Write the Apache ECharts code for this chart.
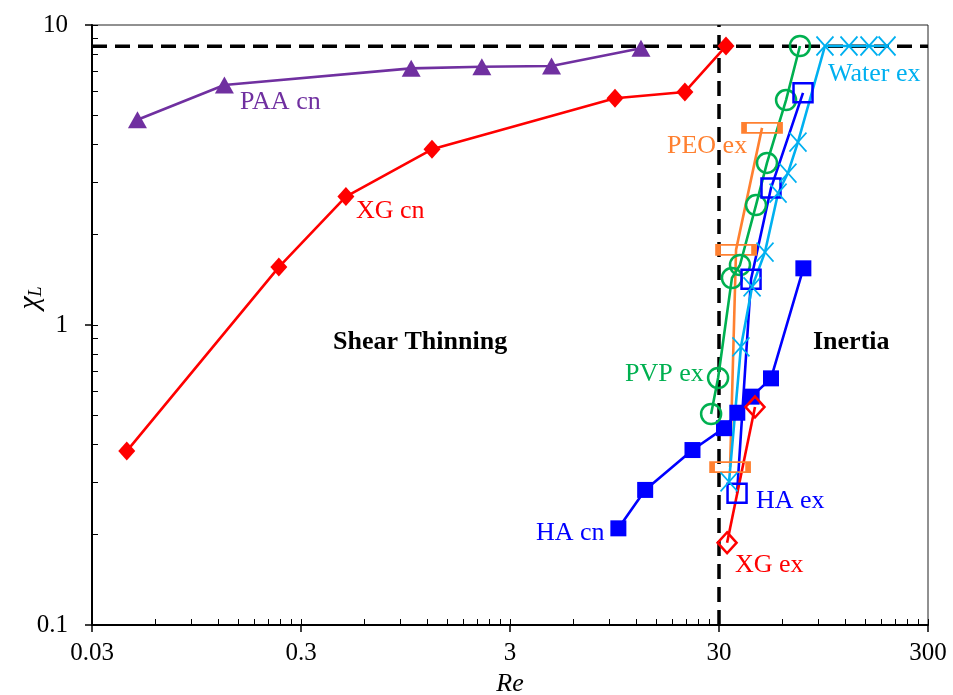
<!DOCTYPE html>
<html>
<head>
<meta charset="utf-8">
<script src="https://cdn.jsdelivr.net/npm/echarts@6/dist/echarts.min.js"></script>
<style>
  html, body { margin: 0; padding: 0; background: #fff; }
  #chart { width: 953px; height: 695px; }
</style>
</head>
<body>
<div id="chart"></div>
<script>
// axis ticks
const xMajorTicks = [0.03, 0.3, 3, 30, 300];
const yMajorTicks = [0.1, 1, 10];
const minorSteps = [2, 3, 4, 5, 6, 7, 8, 9];

// reference levels
const refChi = 8.5;
const refRe = 30;

// PAA cn
const paaCnRe = [0.0495, 0.129, 1.01, 2.2, 4.74, 12.7];
const paaCnChi = [4.83, 6.31, 7.17, 7.26, 7.3, 8.36];

// XG cn
const xgCnRe = [0.044, 0.235, 0.492, 1.27, 9.54, 20.6, 32.4];
const xgCnChi = [0.38, 1.56, 2.68, 3.85, 5.7, 5.98, 8.51];

// HA cn
const haCnRe = [9.9, 13.3, 22.4, 31.7, 36.7, 43, 53.2, 76];
const haCnChi = [0.21, 0.282, 0.383, 0.453, 0.51, 0.577, 0.664, 1.545];

// PEO ex
const peoExRe = [33.9, 36.2, 48.2];
const peoExChi = [0.336, 1.78, 4.54];

// PVP ex
const pvpExRe = [27.5, 29.7, 34.6, 37.8, 45.1, 50.9, 62.8, 73.2];
const pvpExChi = [0.505, 0.666, 1.435, 1.585, 2.51, 3.47, 5.62, 8.51];

// HA ex
const haExRe = [36.6, 42.7, 53.2, 75.7];
const haExChi = [0.275, 1.42, 2.86, 5.94];

// Water ex
const waterExRe = [33.5, 38.2, 43.2, 49.8, 57.5, 64.1, 71.6, 96.4, 125.6, 156.6, 191];
const waterExChi = [0.3, 0.845, 1.34, 1.75, 2.75, 3.21, 4.07, 8.51, 8.51, 8.51, 8.51];

// XG ex
const xgExRe = [32.8, 44.6];
const xgExChi = [0.188, 0.533];

const serif = 'Liberation Serif';

const zip = (xs, ys) => xs.map((x, i) => [x, ys[i]]);

// 次刻度：每个十倍区间内的 2..9 倍
function minorOf(majors) {
  const out = [];
  for (let i = 0; i < majors.length - 1; i++) {
    minorSteps.forEach(k => out.push(+(majors[i] * k).toPrecision(6)));
  }
  return out;
}

function lineSeries(name, re, chi, color, symbol, size, hollow, border) {
  return {
    name: name,
    type: 'line',
    data: zip(re, chi),
    symbol: symbol,
    symbolSize: size,
    lineStyle: { color: color, width: 2.6 },
    itemStyle: hollow
      ? { color: 'rgba(0,0,0,0)', borderColor: color, borderWidth: border || 2.5 }
      : { color: color },
    emphasis: { disabled: true },
    z: 3
  };
}

function dashed(data) {
  return {
    type: 'line',
    data: data,
    symbol: 'none',
    lineStyle: { color: '#000', width: 3.5, type: [15, 8] },
    silent: true,
    z: 2
  };
}

const axisFont = { fontFamily: serif, fontSize: 25, color: '#000' };

function label(text, x, y, color, bold) {
  return {
    type: 'text',
    x: x,
    y: y,
    style: {
      text: text,
      fill: color,
      font: (bold ? 'bold ' : '') + '26px "' + serif + '"',
      verticalAlign: 'middle'
    },
    z: 10
  };
}

const chart = echarts.init(document.getElementById('chart'));

chart.setOption({
  animation: false,
  grid: {
    left: 92, right: 25, top: 25, bottom: 70,
    outerBoundsMode: 'none',
    containLabel: false,
    show: true, borderColor: '#222', borderWidth: 1
  },
  xAxis: [
    {
      type: 'log', min: 0.03, max: 300,
      axisLine: { lineStyle: { color: '#000', width: 2 } },
      axisTick: { customValues: xMajorTicks, length: 7, lineStyle: { color: '#000', width: 1.5 } },
      axisLabel: Object.assign({ customValues: xMajorTicks, margin: 16 }, axisFont),
      splitLine: { show: false },
      name: 'Re',
      nameLocation: 'middle',
      nameGap: 44,
      nameTextStyle: { fontFamily: serif, fontSize: 26, fontStyle: 'italic', color: '#000' }
    },
    {
      type: 'log', min: 0.03, max: 300, position: 'bottom',
      axisLine: { show: false },
      axisTick: { customValues: xMajorTicks.concat(minorOf(xMajorTicks)), inside: true, length: 6, lineStyle: { color: '#000', width: 1 } },
      axisLabel: { show: false },
      splitLine: { show: false }
    }
  ],
  yAxis: [
    {
      type: 'log', min: 0.1, max: 10,
      axisLine: { lineStyle: { color: '#000', width: 2 } },
      axisTick: { customValues: yMajorTicks, length: 7, lineStyle: { color: '#000', width: 1.5 } },
      axisLabel: Object.assign({ customValues: yMajorTicks, margin: 24 }, axisFont),
      splitLine: { show: false }
    },
    {
      type: 'log', min: 0.1, max: 10, position: 'left',
      axisLine: { show: false },
      axisTick: { customValues: yMajorTicks.concat(minorOf(yMajorTicks)), inside: true, length: 6, lineStyle: { color: '#000', width: 1 } },
      axisLabel: { show: false },
      splitLine: { show: false }
    }
  ],
  graphic: [
    {
      type: 'text',
      x: 30,
      y: 298,
      rotation: Math.PI / 2,
      style: {
        text: '{a|χ}{b|L}',
        align: 'center',
        verticalAlign: 'middle',
        rich: {
          a: { fontFamily: serif, fontSize: 30, fontStyle: 'italic', fill: '#000' },
          b: { fontFamily: serif, fontSize: 18, fontStyle: 'italic', fill: '#000', padding: [12, 0, 0, 0] }
        }
      }
    },
    label('PAA cn', 240, 102, '#7030A0'),
    label('XG cn', 356, 211, '#FF0000'),
    label('Shear Thinning', 333, 342, '#000', true),
    label('Inertia', 813, 342, '#000', true),
    label('PEO ex', 667, 146, '#FF8030'),
    label('Water ex', 828, 74, '#00B0F0'),
    label('PVP ex', 625, 374, '#00B050'),
    label('HA ex', 756, 501, '#0000FF'),
    label('HA cn', 536, 533, '#0000FF'),
    label('XG ex', 735, 565, '#FF0000')
  ],
  series: [
    dashed([[0.03, refChi], [300, refChi]]),
    dashed([[refRe, 0.1], [refRe, 10]]),
    lineSeries('PAA cn', paaCnRe, paaCnChi, '#7030A0', 'triangle', [19, 17], false),
    lineSeries('XG cn', xgCnRe, xgCnChi, '#FF0000', 'diamond', [17, 19], false),
    lineSeries('HA cn', haCnRe, haCnChi, '#0000FF', 'rect', 16, false),
    lineSeries('PEO ex', peoExRe, peoExChi, '#FF8030', 'rect', [36, 10], true, 3),
    lineSeries('PVP ex', pvpExRe, pvpExChi, '#00B050', 'circle', 20, true),
    lineSeries('HA ex', haExRe, haExChi, '#0000FF', 'rect', 19, true),
    lineSeries('Water ex', waterExRe, waterExChi, '#00B0F0', 'path://M0,0L16,18M16,0L0,18', [17, 19], true, 1.8),
    lineSeries('XG ex', xgExRe, xgExChi, '#FF0000', 'diamond', [19, 21], true)
  ]
});
</script>
</body>
</html>
